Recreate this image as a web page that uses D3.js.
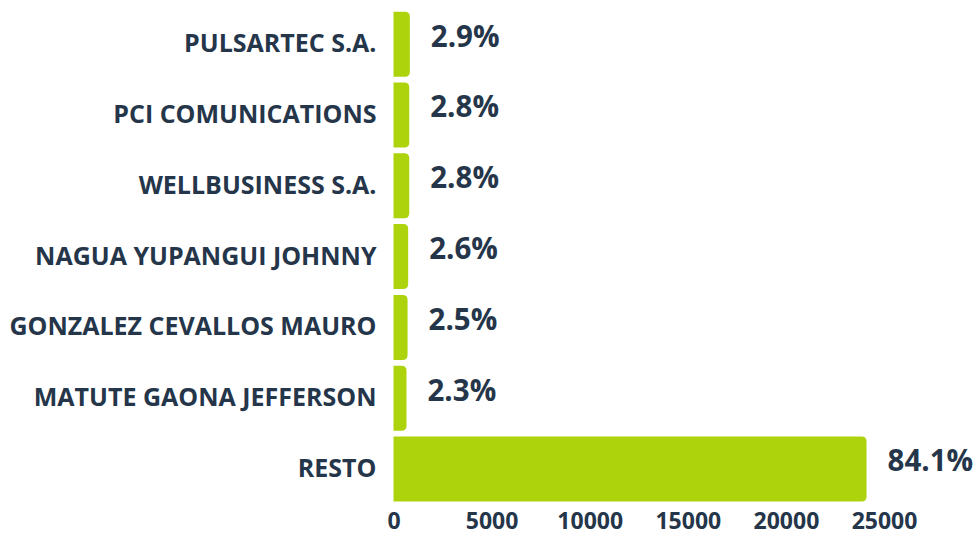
<!DOCTYPE html>
<html>
<head>
<meta charset="utf-8">
<script src="https://cdn.jsdelivr.net/npm/d3@7"></script>
<style>
  html, body { margin: 0; padding: 0; background: #fff; }
  svg { display: block; font-family: "Open Sans", sans-serif; }
</style>
</head>
<body>
<svg id="chart" width="974" height="536"></svg>
<script>
const categories = [
  "PULSARTEC S.A.",
  "PCI COMUNICATIONS",
  "WELLBUSINESS S.A.",
  "NAGUA YUPANGUI JOHNNY",
  "GONZALEZ CEVALLOS MAURO",
  "MATUTE GAONA JEFFERSON",
  "RESTO"
];
const values = [833, 803, 803, 747, 717, 662, 24110];
const percentLabels = ["2.9%", "2.8%", "2.8%", "2.6%", "2.5%", "2.3%", "84.1%"];
const xTicks = [0, 5000, 10000, 15000, 20000, 25000];

const textColor = "#25364a";
const barColor = "#acd30b";

const svg = d3.select("#chart");

const x = d3.scaleLinear().domain([0, 25000]).range([393.5, 884]);
const y = d3.scaleBand().domain(categories).range([8.8, 504.4])
  .paddingInner(0.082).paddingOuter(0.041);

const data = categories.map((c, i) => ({ c, v: values[i], p: percentLabels[i] }));

function rightRounded(x0, y0, w, h, r) {
  r = Math.min(r, w, h / 2);
  return `M${x0},${y0}H${x0 + w - r}Q${x0 + w},${y0} ${x0 + w},${y0 + r}` +
         `V${y0 + h - r}Q${x0 + w},${y0 + h} ${x0 + w - r},${y0 + h}H${x0}Z`;
}

svg.append("g").selectAll("path").data(data).join("path")
  .attr("d", d => rightRounded(x(0), y(d.c), x(d.v) - x(0), y.bandwidth(), 5))
  .attr("fill", barColor);

// value labels
svg.append("g").selectAll("text").data(data).join("text")
  .attr("x", d => x(d.v) + 21)
  .attr("y", d => y(d.c) + y.bandwidth() / 2 - 8)
  .attr("dy", "0.35em")
  .attr("fill", textColor)
  .attr("font-weight", 700)
  .attr("font-size", 29.5)
  .text(d => d.p);

// category axis
const yAxis = svg.append("g")
  .attr("transform", `translate(${x(0) - 17},0)`)
  .call(d3.axisLeft(y).tickSize(0).tickPadding(0));
yAxis.select(".domain").remove();
yAxis.selectAll("text")
  .attr("fill", textColor)
  .attr("font-family", "'Open Sans', sans-serif")
  .attr("font-weight", 700)
  .attr("font-size", 25);

// value axis
const xAxis = svg.append("g")
  .attr("transform", `translate(0,512)`)
  .call(d3.axisBottom(x).tickValues(xTicks).tickFormat(d3.format("d")).tickSize(0).tickPadding(0));
xAxis.select(".domain").remove();
xAxis.selectAll("text")
  .attr("fill", textColor)
  .attr("font-family", "'Open Sans', sans-serif")
  .attr("font-weight", 700)
  .attr("font-size", 23)
  .attr("dy", "0.75em");
</script>
</body>
</html>
